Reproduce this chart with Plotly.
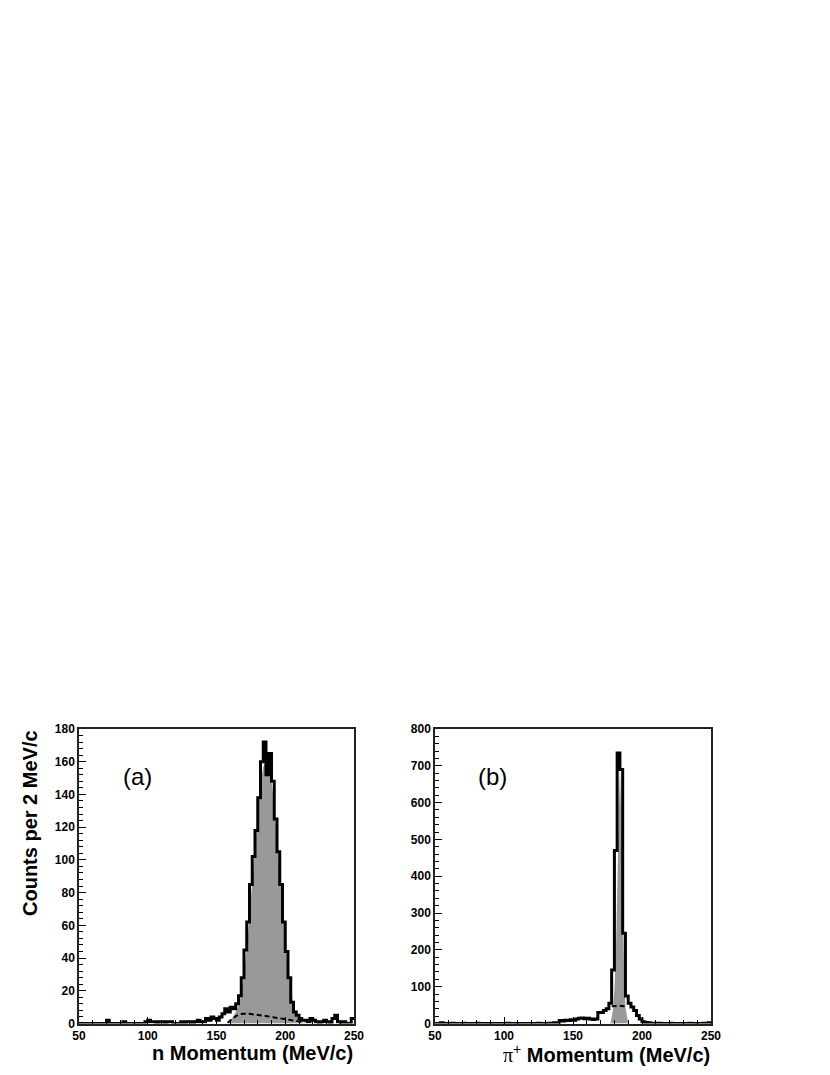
import plotly.graph_objects as go

# page is 830x1075; browser body has an 8px margin, so the figure is 16px smaller
OFF = 8
W, H = 830 - 2 * OFF, 1075 - 2 * OFF


def fx(px):
    return (px - OFF) / W


def fy(py):
    return 1 - (py - OFF) / H


# ---- data -------------------------------------------------------------
bin_edges = list(range(50, 252, 2))  # 50..250, 2 MeV/c bins

n_counts = [
    0, 0, 0, 0, 0, 0, 0, 0, 0, 0,
    2, 0, 0, 0, 0, 0, 1, 0, 0, 0,
    0, 0, 0, 0, 1, 2, 1, 1, 0, 1,
    1, 0, 1, 1, 0, 0, 0, 1, 0, 1,
    1, 0, 1, 2, 1, 1, 3, 2, 4, 3,
    2, 4, 6, 9, 7, 10, 9, 12, 17, 28,
    45, 62, 85, 102, 118, 138, 160, 172, 152, 165,
    148, 125, 105, 85, 62, 44, 28, 13, 7, 5,
    3, 2, 2, 1, 3, 2, 1, 0, 1, 2,
    1, 0, 3, 5, 1, 0, 1, 0, 0, 3,
]

pi_counts = [
    0, 0, 2, 0, 0, 0, 1, 0, 0, 0,
    1, 0, 0, 0, 0, 1, 0, 0, 0, 0,
    0, 0, 0, 0, 0, 0, 1, 0, 0, 0,
    0, 0, 0, 0, 0, 0, 0, 1, 0, 0,
    0, 1, 0, 2, 0, 8, 7, 9, 8, 10,
    9, 12, 14, 15, 13, 14, 12, 11, 12, 30,
    30, 35, 40, 55, 145, 470, 735, 690, 245, 75,
    55, 45, 35, 22, 12, 5, 3, 2, 1, 1,
    0, 1, 0, 0, 0, 1, 0, 0, 0, 0,
    0, 0, 1, 0, 0, 0, 0, 1, 0, 2,
]

# signal fit (grey filled)
n_fit_x = [158, 160, 162, 164, 166, 168, 170, 172, 174, 176, 178, 180, 182, 184, 186,
           188, 190, 192, 194, 196, 198, 200, 202, 204, 206, 208, 210, 212, 214]
n_fit_y = [0, 2, 4, 7, 11, 18, 30, 46, 66, 88, 110, 130, 147, 157, 160,
           157, 148, 133, 114, 93, 72, 52, 35, 21, 11, 5, 2, 1, 0]

pi_fit_x = [177, 178, 179, 180, 181, 182, 183, 184, 185, 186, 187, 188, 189, 190]
pi_fit_y = [0, 15, 40, 90, 180, 330, 560, 700, 560, 330, 150, 45, 15, 0]

# background (dashed)
n_bkg_x = [158, 161, 164, 167, 170, 174, 178, 182, 186, 190, 194, 198, 202, 206, 210, 214]
n_bkg_y = [0.5, 2.5, 4.5, 5.7, 6.0, 5.9, 5.6, 5.1, 4.6, 4.0, 3.5, 3.0, 2.4, 1.8, 1.3, 0.8]

pi_bkg_x = [178, 181, 184, 187, 189]
pi_bkg_y = [47, 48, 48, 47, 46]

assert len(n_counts) == 100 and len(pi_counts) == 100

# ---- figure -----------------------------------------------------------
FONT = "Liberation Sans"


def step_xy(counts):
    xs = bin_edges[:]
    ys = counts + [counts[-1]]
    return xs, ys


fig = go.Figure()

panels = [
    ("x", "y", n_counts, n_fit_x, n_fit_y, n_bkg_x, n_bkg_y),
    ("x2", "y2", pi_counts, pi_fit_x, pi_fit_y, pi_bkg_x, pi_bkg_y),
]
for xa, ya, counts, gx, gy, bx, by in panels:
    fig.add_trace(go.Scatter(x=gx, y=gy, mode="lines", line=dict(width=0, color="#999999"),
                             fill="tozeroy", fillcolor="#999999", xaxis=xa, yaxis=ya,
                             showlegend=False, hoverinfo="skip"))
    sx, sy = step_xy(counts)
    fig.add_trace(go.Scatter(x=sx, y=sy, mode="lines", line=dict(shape="hv", width=3, color="black"),
                             xaxis=xa, yaxis=ya, showlegend=False))
    fig.add_trace(go.Scatter(x=bx, y=by, mode="lines",
                             line=dict(width=2, color="black", dash="5px,3px"),
                             xaxis=xa, yaxis=ya, showlegend=False))

ybot = fy(1023.5)
ytop = fy(729)

xcommon = dict(range=[50, 250], tickvals=[50, 100, 150, 200, 250],
               ticktext=["<b>%d</b>" % v for v in [50, 100, 150, 200, 250]],
               ticks="inside", ticklen=7, tickwidth=1, tickcolor="black",
               minor=dict(dtick=10, ticks="inside", ticklen=4, tickwidth=1, tickcolor="black"),
               showline=True, mirror=True, linecolor="#222222", linewidth=1.5,
               showgrid=False, zeroline=False, automargin=False,
               tickfont=dict(family=FONT, size=12, color="black"))
ycommon = dict(ticks="inside", ticklen=7, tickwidth=1, tickcolor="black",
               showline=True, mirror=True, linecolor="#222222", linewidth=1.5,
               showgrid=False, zeroline=False, automargin=False,
               tickfont=dict(family=FONT, size=12, color="black"))

yl_vals = list(range(0, 181, 20))
yr_vals = list(range(0, 801, 100))

fig.update_layout(
    width=W, height=H,
    margin=dict(l=0, r=0, t=0, b=0, autoexpand=False),
    paper_bgcolor="white", plot_bgcolor="white",
    xaxis=dict(domain=[fx(79), fx(354)], anchor="y", **xcommon),
    yaxis=dict(domain=[ybot, ytop], anchor="x", range=[0, 180], tickvals=yl_vals,
               ticktext=["<b>%d</b>" % v for v in yl_vals],
               minor=dict(dtick=4, ticks="inside", ticklen=4, tickwidth=1, tickcolor="black"),
               **ycommon),
    xaxis2=dict(domain=[fx(435), fx(711)], anchor="y2", **xcommon),
    yaxis2=dict(domain=[ybot, ytop], anchor="x2", range=[0, 800], tickvals=yr_vals,
                ticktext=["<b>%d</b>" % v for v in yr_vals],
                minor=dict(dtick=20, ticks="inside", ticklen=4, tickwidth=1, tickcolor="black"),
                **ycommon),
)

ann_font = dict(family=FONT, size=20, color="black")
fig.add_annotation(text="<b>n Momentum (MeV/c)</b>", xref="paper", yref="paper",
                   x=fx(355), y=fy(1053), xanchor="right", yanchor="middle",
                   showarrow=False, font=ann_font)
fig.add_annotation(text="<span style='font-family:Liberation Serif'>π</span><sup>+</sup><b> Momentum (MeV/c)</b>",
                   xref="paper", yref="paper",
                   x=fx(712), y=fy(1053), xanchor="right", yanchor="middle",
                   showarrow=False, font=ann_font)
fig.add_annotation(text="<b>Counts per 2 MeV/c</b>", xref="paper", yref="paper",
                   x=fx(30), y=fy(728), xanchor="center", yanchor="top", textangle=-90,
                   showarrow=False, font=ann_font)
fig.add_annotation(text="(a)", xref="paper", yref="paper", x=fx(137), y=fy(776),
                   xanchor="center", yanchor="middle", showarrow=False,
                   font=dict(family=FONT, size=24, color="black"))
fig.add_annotation(text="(b)", xref="paper", yref="paper", x=fx(493), y=fy(776),
                   xanchor="center", yanchor="middle", showarrow=False,
                   font=dict(family=FONT, size=24, color="black"))

fig.write_html("out.html")
